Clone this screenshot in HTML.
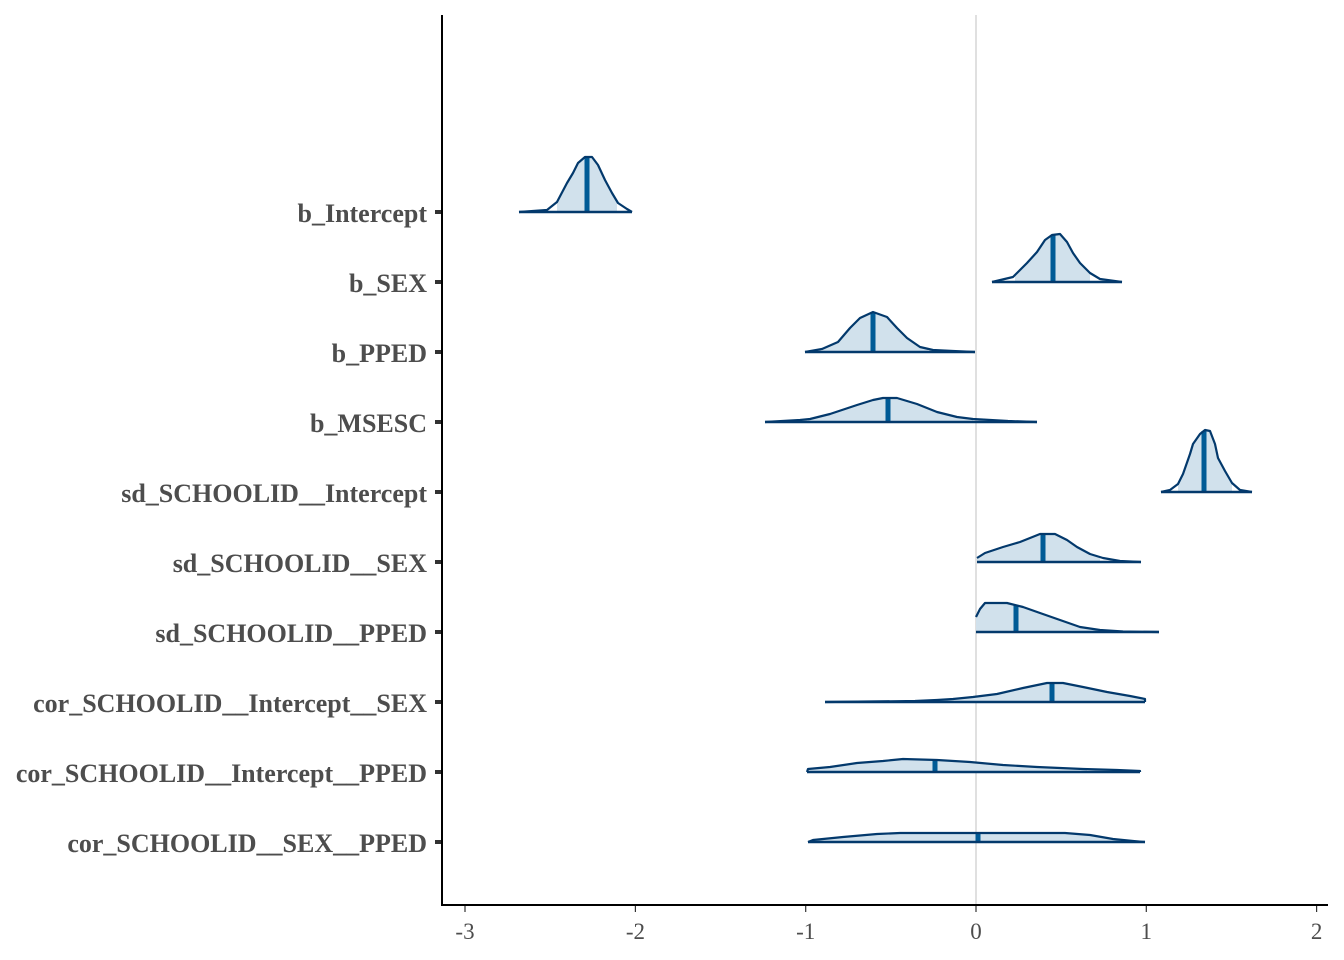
<!DOCTYPE html>
<html><head><meta charset="utf-8"><style>
html,body{margin:0;padding:0;background:#fff;}
svg{display:block;}
.lab{font-family:"Liberation Serif",serif;font-weight:bold;font-size:26px;fill:#4d4d4d;text-anchor:end;}
.xl{font-family:"Liberation Serif",serif;font-size:23px;fill:#4d4d4d;text-anchor:middle;}
.fill{fill:#d1e1ec;stroke:none;}
.out{fill:none;stroke:#03396c;stroke-width:2.2;stroke-linejoin:round;}
.base{stroke:#03396c;stroke-width:2.4;}
.med{stroke:#005b96;stroke-width:5;}
</style></head><body>
<svg width="1344" height="960" viewBox="0 0 1344 960" xmlns="http://www.w3.org/2000/svg">
<rect width="1344" height="960" fill="#fff"/>
<defs>
<clipPath id="c1"><rect x="557" y="100" width="60" height="120"/></clipPath>
<clipPath id="c2"><rect x="1015" y="200" width="75" height="90"/></clipPath>
<clipPath id="c3"><rect x="822" y="280" width="106" height="80"/></clipPath>
<clipPath id="c4"><rect x="808" y="370" width="165" height="60"/></clipPath>
<clipPath id="c5"><rect x="1178" y="400" width="54" height="100"/></clipPath>
<clipPath id="c6"><rect x="977" y="500" width="123" height="70"/></clipPath>
<clipPath id="c7"><rect x="976" y="580" width="124" height="60"/></clipPath>
<clipPath id="c8"><rect x="930" y="660" width="216" height="50"/></clipPath>
<clipPath id="c9"><rect x="807" y="740" width="280" height="40"/></clipPath>
<clipPath id="c10"><rect x="813" y="810" width="317" height="40"/></clipPath>
</defs>

<!-- zero line -->
<line x1="976" y1="15" x2="976" y2="905" stroke="#e0e0e0" stroke-width="2"/>

<!-- Row 1 b_Intercept -->
<g>
<polygon class="fill" clip-path="url(#c1)" points="519,212 547,210 557,202 567,183 573,173 578,163 585,157 592,157 598,165 605,180 612,193 618,203 627,209 632,212"/>
<line class="med" x1="587" y1="212" x2="587" y2="158"/>
<polyline class="out" points="519,212 547,210 557,202 567,183 573,173 578,163 585,157 592,157 598,165 605,180 612,193 618,203 627,209 632,212"/>
<line class="base" x1="519" y1="212" x2="632" y2="212"/>
</g>
<!-- Row 2 b_SEX -->
<g>
<polygon class="fill" clip-path="url(#c2)" points="992,282 1013,277 1027,263 1037,252 1045,240 1052,235 1060,234 1067,242 1073,253 1080,263 1090,273 1100,279 1122,282"/>
<line class="med" x1="1053" y1="282" x2="1053" y2="235"/>
<polyline class="out" points="992,282 1013,277 1027,263 1037,252 1045,240 1052,235 1060,234 1067,242 1073,253 1080,263 1090,273 1100,279 1122,282"/>
<line class="base" x1="992" y1="282" x2="1122" y2="282"/>
</g>
<!-- Row 3 b_PPED -->
<g>
<polygon class="fill" clip-path="url(#c3)" points="805,352 822,349 838,342 850,328 860,318 873,312 887,317 897,328 907,338 920,347 933,350 953,351 975,352"/>
<line class="med" x1="873" y1="352" x2="873" y2="313"/>
<polyline class="out" points="805,352 822,349 838,342 850,328 860,318 873,312 887,317 897,328 907,338 920,347 933,350 953,351 975,352"/>
<line class="base" x1="805" y1="352" x2="975" y2="352"/>
</g>
<!-- Row 4 b_MSESC -->
<g>
<polygon class="fill" clip-path="url(#c4)" points="765,422 800,420 810,419 830,414 857,405 873,400 883,398 897,398 917,404 937,412 957,417 973,419 1008,421 1037,422"/>
<line class="med" x1="888" y1="422" x2="888" y2="398"/>
<polyline class="out" points="765,422 800,420 810,419 830,414 857,405 873,400 883,398 897,398 917,404 937,412 957,417 973,419 1008,421 1037,422"/>
<line class="base" x1="765" y1="422" x2="1037" y2="422"/>
</g>
<!-- Row 5 sd_Intercept -->
<g>
<polygon class="fill" clip-path="url(#c5)" points="1161,492 1170,490 1178,484 1183,474 1190,454 1193,444 1200,434 1205,430 1210,431 1215,444 1218,458 1225,471 1232,483 1240,490 1252,492"/>
<line class="med" x1="1204" y1="492" x2="1204" y2="431"/>
<polyline class="out" points="1161,492 1170,490 1178,484 1183,474 1190,454 1193,444 1200,434 1205,430 1210,431 1215,444 1218,458 1225,471 1232,483 1240,490 1252,492"/>
<line class="base" x1="1161" y1="492" x2="1252" y2="492"/>
</g>
<!-- Row 6 sd_SEX -->
<g>
<polygon class="fill" clip-path="url(#c6)" points="977,562 977,558 985,553 1003,547 1020,542 1040,534 1055,534 1067,540 1077,547 1090,554 1103,558 1120,561 1141,562"/>
<line class="med" x1="1043" y1="562" x2="1043" y2="534"/>
<polyline class="out" points="977,558 985,553 1003,547 1020,542 1040,534 1055,534 1067,540 1077,547 1090,554 1103,558 1120,561 1141,562"/>
<line class="base" x1="977" y1="562" x2="1141" y2="562"/>
</g>
<!-- Row 7 sd_PPED -->
<g>
<polygon class="fill" clip-path="url(#c7)" points="976,632 976,617 980,609 985,603 1007,603 1023,607 1040,613 1060,620 1080,627 1100,630 1123,631.5 1159,632"/>
<line class="med" x1="1016" y1="632" x2="1016" y2="605"/>
<polyline class="out" points="976,617 980,609 985,603 1007,603 1023,607 1040,613 1060,620 1080,627 1100,630 1123,631.5 1159,632"/>
<line class="base" x1="976" y1="632" x2="1159" y2="632"/>
</g>
<!-- Row 8 cor_Int_SEX -->
<g>
<polygon class="fill" clip-path="url(#c8)" points="825,702 915,701 937,700 953,699 973,697 997,694 1023,688 1047,683 1063,683 1083,687 1107,692 1130,696 1145,699 1145,702"/>
<line class="med" x1="1052" y1="702" x2="1052" y2="684"/>
<polyline class="out" points="825,702 915,701 937,700 953,699 973,697 997,694 1023,688 1047,683 1063,683 1083,687 1107,692 1130,696 1145,699 1145,702"/>
<line class="base" x1="825" y1="702" x2="1145" y2="702"/>
</g>
<!-- Row 9 cor_Int_PPED -->
<g>
<polygon class="fill" clip-path="url(#c9)" points="807,772 808,769 830,767 857,763 883,761 903,759 937,760 970,762 1003,765 1037,767 1083,769 1117,770 1140,771 1140,772"/>
<line class="med" x1="935" y1="772" x2="935" y2="760"/>
<polyline class="out" points="807,772 808,769 830,767 857,763 883,761 903,759 937,760 970,762 1003,765 1037,767 1083,769 1117,770 1140,771 1140,772"/>
<line class="base" x1="807" y1="772" x2="1140" y2="772"/>
</g>
<!-- Row 10 cor_SEX_PPED -->
<g>
<polygon class="fill" clip-path="url(#c10)" points="808,842 813,840 843,837 877,834 900,833 1065,833 1090,835 1113,839 1133,841 1145,842"/>
<line class="med" x1="978" y1="842" x2="978" y2="834"/>
<polyline class="out" points="808,842 813,840 843,837 877,834 900,833 1065,833 1090,835 1113,839 1133,841 1145,842"/>
<line class="base" x1="808" y1="842" x2="1145" y2="842"/>
</g>

<!-- axes -->
<line x1="442" y1="15" x2="442" y2="906" stroke="#000" stroke-width="2"/>
<line x1="441" y1="905" x2="1328" y2="905" stroke="#000" stroke-width="2"/>

<!-- y ticks -->
<g fill="#333">
<rect x="435" y="210" width="6" height="4"/>
<rect x="435" y="280" width="6" height="4"/>
<rect x="435" y="350" width="6" height="4"/>
<rect x="435" y="420" width="6" height="4"/>
<rect x="435" y="490" width="6" height="4"/>
<rect x="435" y="560" width="6" height="4"/>
<rect x="435" y="630" width="6" height="4"/>
<rect x="435" y="700" width="6" height="4"/>
<rect x="435" y="770" width="6" height="4"/>
<rect x="435" y="840" width="6" height="4"/>
</g>
<g class="lab">
<text x="427" y="222">b_Intercept</text>
<text x="427" y="292">b_SEX</text>
<text x="427" y="362">b_PPED</text>
<text x="427" y="432">b_MSESC</text>
<text x="427" y="502">sd_SCHOOLID__Intercept</text>
<text x="427" y="572">sd_SCHOOLID__SEX</text>
<text x="427" y="642">sd_SCHOOLID__PPED</text>
<text x="427" y="712">cor_SCHOOLID__Intercept__SEX</text>
<text x="427" y="782">cor_SCHOOLID__Intercept__PPED</text>
<text x="427" y="852">cor_SCHOOLID__SEX__PPED</text>
</g>

<!-- x ticks -->
<g stroke="#333" stroke-width="1.2">
<line x1="465" y1="906" x2="465" y2="912"/>
<line x1="635.4" y1="906" x2="635.4" y2="912"/>
<line x1="805.7" y1="906" x2="805.7" y2="912"/>
<line x1="976" y1="906" x2="976" y2="912"/>
<line x1="1146.3" y1="906" x2="1146.3" y2="912"/>
<line x1="1316.6" y1="906" x2="1316.6" y2="912"/>
</g>
<g class="xl">
<text x="465" y="939">-3</text>
<text x="635.4" y="939">-2</text>
<text x="805.7" y="939">-1</text>
<text x="976" y="939">0</text>
<text x="1146.3" y="939">1</text>
<text x="1316.6" y="939">2</text>
</g>
</svg>
</body></html>
